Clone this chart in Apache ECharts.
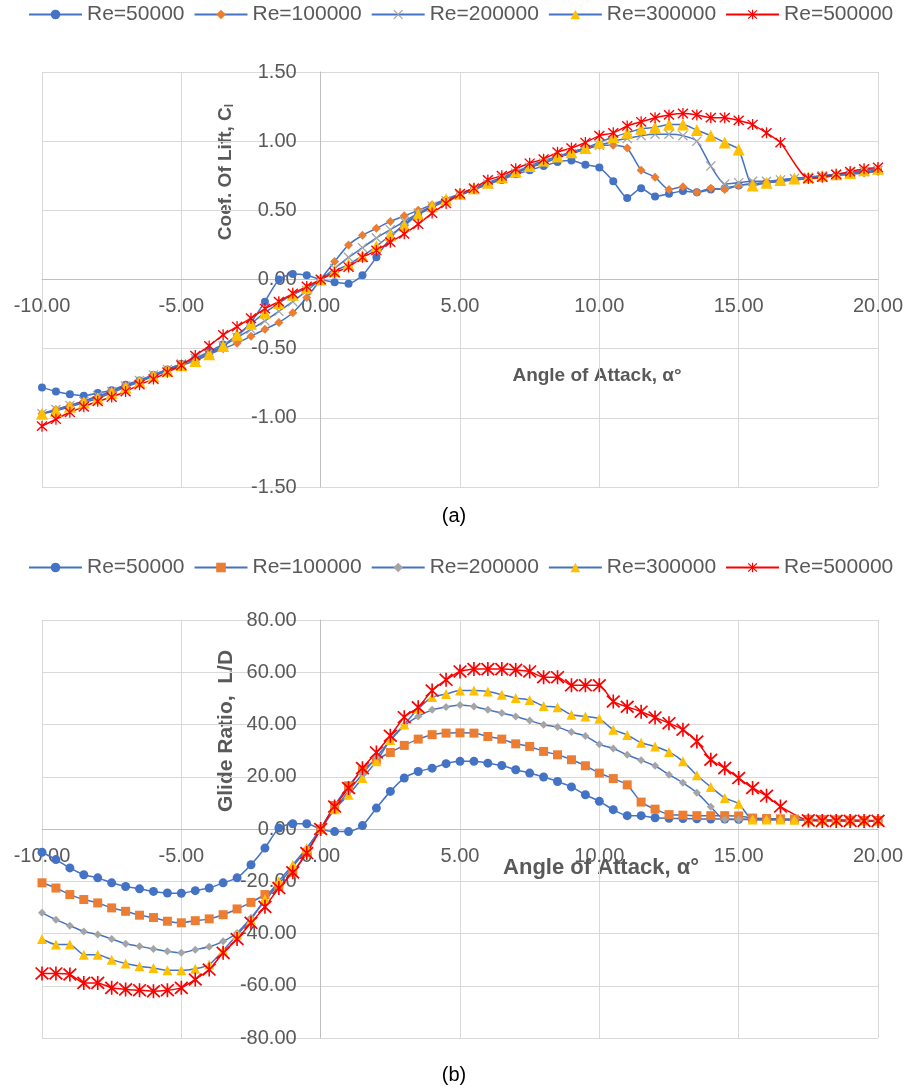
<!DOCTYPE html>
<html><head><meta charset="utf-8">
<script src="https://cdn.jsdelivr.net/npm/echarts@6/dist/echarts.min.js"></script>
<style>html,body{margin:0;padding:0;background:#fff}#c{width:909px;height:1091px}</style>
</head><body><div id="c"></div>
<script>
// Angle of attack (deg)
const alpha = [-10,-9.5,-9,-8.5,-8,-7.5,-7,-6.5,-6,-5.5,-5,-4.5,-4,-3.5,-3,-2.5,-2,-1.5,-1,-0.5,
  0,0.5,1,1.5,2,2.5,3,3.5,4,4.5,5,5.5,6,6.5,7,7.5,8,8.5,9,9.5,
  10,10.5,11,11.5,12,12.5,13,13.5,14,14.5,15,15.5,16,16.5,17,17.5,18,18.5,19,19.5,20];

const seriesNames = ['Re=50000','Re=100000','Re=200000','Re=300000','Re=500000'];

// (a) Coefficient of lift
const clRe50k = [-0.78,-0.81,-0.83,-0.84,-0.82,-0.80,-0.76,-0.73,-0.69,-0.65,-0.61,-0.57,-0.52,-0.47,-0.41,-0.31,-0.16,0.00,0.04,0.03,
  0.00,-0.02,-0.03,0.03,0.16,0.30,0.40,0.47,0.52,0.57,0.61,0.65,0.69,0.72,0.76,0.79,0.82,0.85,0.86,0.83,
  0.81,0.71,0.59,0.66,0.60,0.62,0.64,0.63,0.65,0.66,0.68,0.69,0.70,0.71,0.72,0.73,0.74,0.75,0.77,0.78,0.79];
const clRe100k = [-0.97,-0.94,-0.91,-0.88,-0.85,-0.81,-0.77,-0.73,-0.69,-0.65,-0.61,-0.58,-0.54,-0.50,-0.46,-0.41,-0.36,-0.31,-0.24,-0.13,
  0.00,0.13,0.25,0.32,0.37,0.42,0.46,0.50,0.54,0.58,0.61,0.65,0.69,0.73,0.77,0.81,0.85,0.89,0.92,0.95,
  0.97,0.97,0.95,0.79,0.74,0.65,0.67,0.63,0.66,0.65,0.68,0.69,0.70,0.71,0.72,0.73,0.74,0.75,0.76,0.77,0.78];
const clRe200k = [-0.97,-0.94,-0.91,-0.88,-0.84,-0.81,-0.77,-0.73,-0.69,-0.65,-0.61,-0.57,-0.53,-0.48,-0.42,-0.36,-0.30,-0.23,-0.16,-0.08,
  0.00,0.08,0.16,0.23,0.30,0.36,0.42,0.48,0.53,0.57,0.61,0.65,0.69,0.73,0.77,0.81,0.84,0.88,0.91,0.94,
  0.97,1.00,1.02,1.04,1.05,1.05,1.04,1.00,0.82,0.69,0.70,0.71,0.71,0.72,0.73,0.74,0.75,0.76,0.77,0.78,0.79];
const clRe300k = [-0.97,-0.95,-0.92,-0.89,-0.86,-0.82,-0.78,-0.74,-0.70,-0.66,-0.62,-0.59,-0.54,-0.48,-0.40,-0.32,-0.24,-0.17,-0.11,-0.06,
  0.00,0.06,0.11,0.17,0.24,0.32,0.39,0.47,0.53,0.58,0.62,0.66,0.70,0.74,0.78,0.82,0.86,0.89,0.92,0.95,
  0.99,1.03,1.06,1.09,1.10,1.12,1.12,1.08,1.04,0.99,0.94,0.68,0.70,0.72,0.73,0.74,0.75,0.76,0.77,0.79,0.80];
const clRe500k = [-1.06,-1.01,-0.96,-0.92,-0.88,-0.85,-0.81,-0.76,-0.72,-0.67,-0.62,-0.55,-0.48,-0.40,-0.34,-0.28,-0.21,-0.16,-0.10,-0.05,
  0.00,0.05,0.09,0.16,0.21,0.27,0.33,0.40,0.48,0.55,0.62,0.66,0.72,0.75,0.80,0.84,0.87,0.92,0.95,0.99,
  1.04,1.06,1.11,1.14,1.17,1.19,1.20,1.19,1.17,1.17,1.15,1.12,1.06,0.99,null,0.73,0.74,0.76,0.78,0.80,0.81];

// (b) Glide ratio L/D
const ldRe50k = [-8.9,-11.7,-14.9,-17.5,-18.7,-20.6,-22.0,-22.9,-23.9,-24.5,-24.6,-23.6,-22.6,-20.6,-18.7,-13.7,-7.3,0.4,2.0,2.0,
  0.0,-1.0,-1.0,1.3,8.0,14.4,19.5,22.0,23.3,25.0,25.9,25.9,25.2,24.3,22.7,21.4,19.9,18.2,16.1,13.1,
  10.6,7.4,5.1,5.1,4.3,4.1,4.0,3.9,3.8,3.8,3.7,3.7,3.6,3.6,3.5,3.5,3.4,3.4,3.3,3.3,3.2];
const ldRe100k = [-20.6,-22.6,-25.1,-27.0,-28.3,-30.2,-31.5,-33.0,-33.9,-35.3,-35.9,-35.1,-34.4,-32.8,-30.6,-28.1,-25.1,-22.0,-16.5,-9.0,
  0.0,9.0,16.5,22.5,26.5,29.3,32.0,34.4,36.1,36.7,36.8,36.7,35.4,34.4,32.6,31.6,29.7,28.4,26.5,24.2,
  21.4,19.3,16.9,10.3,7.6,5.5,5.3,5.1,5.1,5.1,5.0,4.2,4.0,3.9,3.8,3.7,3.6,3.5,3.4,3.3,3.3];
const ldRe200k = [-32.1,-34.7,-37.0,-39.2,-40.4,-42.1,-43.9,-44.9,-45.9,-46.8,-47.4,-46.2,-45.1,-43.0,-39.8,-34.0,-27.5,-21.0,-14.5,-7.5,
  0.0,7.5,14.5,21.0,27.5,34.0,39.5,43.1,45.6,46.7,47.5,46.9,45.6,44.4,43.1,41.5,39.9,39.0,37.1,35.6,
  32.4,30.8,28.4,26.3,24.2,20.8,17.7,13.9,8.5,3.6,3.6,3.6,3.5,3.5,3.5,3.4,3.4,3.3,3.3,3.2,3.2];
const ldRe300k = [-42.1,-44.2,-44.2,-48.1,-48.1,-50.0,-51.5,-52.5,-53.2,-54.1,-54.1,-53.5,-51.9,-46.5,-40.5,-34.7,-26.8,-20.0,-13.7,-7.3,
  0.0,7.6,13.1,19.5,25.9,34.1,40.0,46.0,50.5,51.7,53.0,53.0,52.6,51.4,50.1,49.4,47.1,46.6,43.7,43.1,
  42.2,38.0,36.0,33.0,31.6,29.5,25.9,20.6,16.1,11.9,9.7,3.6,3.6,3.6,3.5,3.5,3.4,3.4,3.3,3.3,3.2];
const ldRe500k = [-55.3,-55.3,-55.7,-58.9,-58.9,-60.8,-61.4,-61.7,-62.1,-61.7,-60.8,-57.6,-53.8,-47.4,-42.1,-35.9,-29.8,-22.6,-16.6,-9.2,
  0.0,8.6,15.7,23.3,29.3,35.7,42.8,46.6,53.0,57.1,60.3,61.2,61.2,61.2,60.9,60.3,58.1,58.1,55.0,55.0,
  55.0,48.8,46.8,44.9,42.7,40.5,38.0,33.5,26.5,23.3,19.5,15.7,12.7,8.6,null,3.3,3.1,3.1,3.1,3.1,3.1];

// axis ranges
const xRange = { min: -10, max: 20, step: 5 };
const clRange = { min: -1.5, max: 1.5, step: 0.5 };
const ldRange = { min: -80, max: 80, step: 20 };

const FONT = 'Liberation Sans';
const GRAY = '#595959';
const LINE_BLUE = '#4472C4';
const C_BLUE = '#4472C4', C_ORANGE = '#ED7D31', C_GRAY = '#A5A5A5', C_YELLOW = '#FFC000', C_RED = '#FF0000';

const STAR = 'path://M8.9,0 L11.1,0 L11.1,20 L8.9,20 Z M0.65,2.35 L2.35,0.65 L19.35,17.65 L17.65,19.35 Z M17.65,0.65 L19.35,2.35 L2.35,19.35 L0.65,17.65 Z';
const XMARK = 'path://M0.65,2.35 L2.35,0.65 L19.35,17.65 L17.65,19.35 Z M17.65,0.65 L19.35,2.35 L2.35,19.35 L0.65,17.65 Z';

const grids = [
  { left: 42, top: 72, width: 836, height: 415 },
  { left: 42, top: 620, width: 836, height: 418 }
];

function mk(name, vals, gi, symbol, size, color, lineColor) {
  return {
    type: 'line', name: name, xAxisIndex: gi, yAxisIndex: gi,
    data: alpha.map((a, i) => [a, vals[i]]).filter(p => p[1] !== null),
    symbol: symbol, symbolSize: size, showAllSymbol: true, smooth: 0.2,
    lineStyle: { color: lineColor, width: 1.5 },
    itemStyle: { color: color, borderColor: color, borderWidth: 0 },
    emphasis: { disabled: true }
  };
}
const B = ' ';  // panel (b) names carry a trailing space removed by the legend formatter
const series = [
  mk(seriesNames[0], clRe50k, 0, 'circle', 8, C_BLUE, LINE_BLUE),
  mk(seriesNames[1], clRe100k, 0, 'diamond', 9, C_ORANGE, LINE_BLUE),
  mk(seriesNames[2], clRe200k, 0, XMARK, 10, C_GRAY, LINE_BLUE),
  mk(seriesNames[3], clRe300k, 0, 'triangle', 12, C_YELLOW, LINE_BLUE),
  mk(seriesNames[4], clRe500k, 0, STAR, 11, C_RED, C_RED),
  mk(seriesNames[0] + B, ldRe50k, 1, 'circle', 9, C_BLUE, LINE_BLUE),
  mk(seriesNames[1] + B, ldRe100k, 1, 'rect', 9, C_ORANGE, LINE_BLUE),
  mk(seriesNames[2] + B, ldRe200k, 1, 'diamond', 8, C_GRAY, LINE_BLUE),
  mk(seriesNames[3] + B, ldRe300k, 1, 'triangle', 10, C_YELLOW, LINE_BLUE),
  mk(seriesNames[4] + B, ldRe500k, 1, STAR, 14, C_RED, C_RED)
];

// x axis sits on y=0, y axis on x=0 (Excel style): shift from the grid edge by the scale fraction
function xAx(gi, yr) {
  const off = -grids[gi].height * (0 - yr.min) / (yr.max - yr.min);
  return {
    type: 'value', gridIndex: gi, min: xRange.min, max: xRange.max, interval: xRange.step,
    position: 'bottom', offset: off,
    axisLine: { onZero: false, lineStyle: { color: '#BFBFBF', width: 1 } },
    axisTick: { show: false },
    axisLabel: { formatter: v => v.toFixed(2), color: GRAY, fontFamily: FONT, fontSize: 20, margin: 17 },
    splitLine: { show: true, lineStyle: { color: '#D9D9D9', width: 1 } }
  };
}
function yAx(gi, yr) {
  const off = -grids[gi].width * (0 - xRange.min) / (xRange.max - xRange.min);
  return {
    type: 'value', gridIndex: gi, min: yr.min, max: yr.max, interval: yr.step,
    position: 'left', offset: off,
    axisLine: { show: true, onZero: false, lineStyle: { color: '#BFBFBF', width: 1 } },
    axisTick: { show: false },
    axisLabel: { formatter: v => v.toFixed(2), color: GRAY, fontFamily: FONT, fontSize: 20, margin: 24 },
    splitLine: { show: true, lineStyle: { color: '#D9D9D9', width: 1 } }
  };
}
function legend(top, withSuffix) {
  return {
    top: top, left: 28, itemWidth: 53, itemHeight: 12, itemGap: 9, padding: 0,
    data: seriesNames.map(n => withSuffix ? n + B : n),
    formatter: n => n.trim(),
    textStyle: { color: GRAY, fontFamily: FONT, fontSize: 21 },
    selectedMode: false
  };
}
const titleFont = 'bold 19px "' + FONT + '"';
const option = {
  animation: false,
  backgroundColor: '#fff',
  grid: grids.map(g => Object.assign({ outerBoundsMode: 'none', containLabel: false }, g)),
  xAxis: [xAx(0, clRange), xAx(1, ldRange)],
  yAxis: [yAx(0, clRange), yAx(1, ldRange)],
  legend: [legend(4, false), legend(557, true)],
  series: series,
  graphic: [
    { type: 'text', x: 226, y: 172, rotation: Math.PI / 2,
      style: { text: '{m|Coef. Of Lift, C}{s|l}', textAlign: 'center', textVerticalAlign: 'middle',
        rich: { m: { font: titleFont, fill: GRAY }, s: { font: 'bold 12px "' + FONT + '"', fill: GRAY, padding: [8, 0, 0, 0] } } } },
    { type: 'text', x: 597, y: 376,
      style: { text: 'Angle of Attack, α°', font: titleFont, fill: GRAY, textAlign: 'center', textVerticalAlign: 'middle' } },
    { type: 'text', x: 226, y: 731, rotation: Math.PI / 2,
      style: { text: 'Glide Ratio,  L/D', font: 'bold 21px "' + FONT + '"', fill: GRAY, textAlign: 'center', textVerticalAlign: 'middle' } },
    { type: 'text', x: 601, y: 868,
      style: { text: 'Angle of Attack, α°', font: 'bold 22px "' + FONT + '"', fill: GRAY, textAlign: 'center', textVerticalAlign: 'middle' } },
    { type: 'text', x: 454, y: 516,
      style: { text: '(a)', font: '20px "' + FONT + '"', fill: '#000', textAlign: 'center', textVerticalAlign: 'middle' } },
    { type: 'text', x: 454, y: 1075,
      style: { text: '(b)', font: '20px "' + FONT + '"', fill: '#000', textAlign: 'center', textVerticalAlign: 'middle' } }
  ]
};
const chart = echarts.init(document.getElementById('c'), null, { renderer: 'canvas' });
chart.setOption(option);
</script></body></html>
